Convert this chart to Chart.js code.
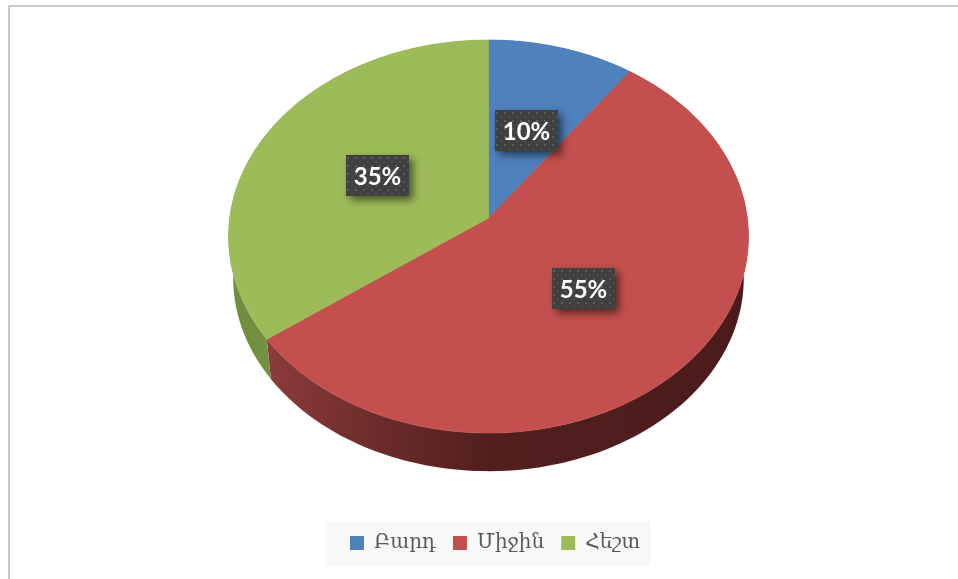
<!DOCTYPE html>
<html>
<head>
<meta charset="utf-8">
<style>
  body { margin: 0; background: #fff; overflow: hidden; }
  #wrap { position: relative; width: 958px; height: 579px; }
  #frame { position: absolute; left: 8px; top: 5px; right: 0; bottom: 0; border-left: 2px solid #c8c8c8; border-top: 2px solid #c8c8c8; }
  canvas { position: absolute; left: 0; top: 0; }
</style>
<script src="https://cdn.jsdelivr.net/npm/chart.js@4"></script>
</head>
<body>
<div id="wrap">
  <div id="frame"></div>
  <canvas id="pie" width="958" height="579"></canvas>
</div>
<script>
const categories = ['Բարդ', 'Միջին', 'Հեշտ'];
const shares = [10, 55, 35];
const faceColors = ['#4f81bd', '#c3504e', '#9ebb59'];

// Tilted disc, the apex sits above the middle of the ellipse so this is a real perspective map
const apexX = 488.5, apexY = 218;
const radX = 258.8, radY = 194.8, persp = 0.0941;
const depth = 42, bottomScale = 0.982;
// small hand nudges for the label boxes
const labelNudgeX = [0, 0, 2];
const labelNudgeY = [1, -1, 1];

function project(angle, r, lower) {
    const u = Math.cos(angle) * r, v = Math.sin(angle) * r;
    const w = 1 - persp * v;
    const s = lower ? bottomScale : 1;
    return {
        x: apexX + s * radX * u / w,
        y: apexY + s * radY * v / w + (lower ? depth : 0)
    };
}

function wallFill(ctx, index) {
    const g = ctx.createLinearGradient(230, 0, 750, 0);
    if (index === 1) {
        g.addColorStop(0.07, '#8c3b3b');
        g.addColorStop(0.3, '#692b29');
        g.addColorStop(0.5, '#521f1d');
        g.addColorStop(1, '#4a1c1b');
    } else if (index === 2) {
        g.addColorStop(0, '#6f8c3f');
        g.addColorStop(0.1, '#769443');
    } else {
        g.addColorStop(0, '#2f4d71');
        g.addColorStop(1, '#2f4d71');
    }
    return g;
}

function tracePts(ctx, a1, a2, r, lower, first) {
    const steps = 120;
    for (let i = 0; i <= steps; i++) {
        const p = project(a1 + (a2 - a1) * i / steps, r, lower);
        if (i === 0 && first) ctx.moveTo(p.x, p.y);
        else ctx.lineTo(p.x, p.y);
    }
}

const dotTile = document.createElement('canvas');
dotTile.width = 8;
dotTile.height = 8;
const tileCtx = dotTile.getContext('2d');
tileCtx.fillStyle = '#404040';
tileCtx.fillRect(0, 0, 8, 8);
tileCtx.fillStyle = '#5c5c5c';
tileCtx.fillRect(1, 2, 2, 2);
tileCtx.fillStyle = '#4e4e4e';
tileCtx.fillRect(5, 6, 2, 2);

const tiltedPie = {
    id: 'tiltedPie',
    beforeDraw(chart) {
        const ctx = chart.ctx;
        ctx.fillStyle = '#f8f8f8';
        ctx.fillRect(327, 521, 324, 45);
    },
    // the library's arcs give the angles, this only changes how they are painted
    beforeDatasetDraw(chart, args) {
        const ctx = chart.ctx;
        const arcs = chart.getDatasetMeta(args.index).data;
        arcs.forEach((arc, i) => {
            ctx.beginPath();
            tracePts(ctx, arc.startAngle, arc.endAngle, 1, false, true);
            tracePts(ctx, arc.endAngle, arc.startAngle, 1, true, false);
            ctx.closePath();
            ctx.fillStyle = wallFill(ctx, i);
            ctx.fill();
        });
        arcs.forEach((arc, i) => {
            ctx.beginPath();
            ctx.moveTo(apexX, apexY);
            tracePts(ctx, arc.startAngle, arc.endAngle, 1, false, false);
            ctx.closePath();
            ctx.fillStyle = faceColors[i];
            ctx.strokeStyle = faceColors[i];
            ctx.lineWidth = 0.6;
            ctx.fill();
            ctx.stroke();
        });
        return false;
    },
    afterDatasetsDraw(chart) {
        const ctx = chart.ctx;
        const arcs = chart.getDatasetMeta(0).data;
        arcs.forEach((arc, i) => {
            const p = project((arc.startAngle + arc.endAngle) / 2, 0.5, false);
            const left = Math.round(p.x - 31.5) + labelNudgeX[i];
            const top = Math.round(p.y - 20.5) + labelNudgeY[i];
            ctx.save();
            ctx.shadowColor = 'rgba(0,0,0,0.55)';
            ctx.shadowBlur = 8;
            ctx.shadowOffsetX = 4;
            ctx.shadowOffsetY = 4;
            ctx.fillStyle = '#404040';
            ctx.fillRect(left, top, 63, 41);
            ctx.restore();
            ctx.save();
            ctx.translate(left, top);
            ctx.fillStyle = ctx.createPattern(dotTile, 'repeat');
            ctx.fillRect(0, 0, 63, 41);
            ctx.restore();
            ctx.fillStyle = '#ffffff';
            ctx.font = 'bold 24px Lato';
            ctx.textAlign = 'center';
            ctx.textBaseline = 'middle';
            ctx.fillText(shares[i] + '%', left + 31.5, top + 22);
        });
    }
};

new Chart(document.getElementById('pie'), {
    type: 'pie',
    data: {
        labels: categories,
        datasets: [{
            data: shares,
            backgroundColor: faceColors,
            borderWidth: 0
        }]
    },
    options: {
        responsive: false,
        animation: false,
        layout: { padding: { left: 32, bottom: 16 } },
        plugins: {
            tooltip: { enabled: false },
            legend: {
                position: 'bottom',
                labels: {
                    boxWidth: 14,
                    boxHeight: 14,
                    padding: 17,
                    color: '#595959',
                    font: { family: '"DejaVu Serif"', size: 20 }
                }
            }
        }
    },
    plugins: [tiltedPie]
});
</script>
</body>
</html>
